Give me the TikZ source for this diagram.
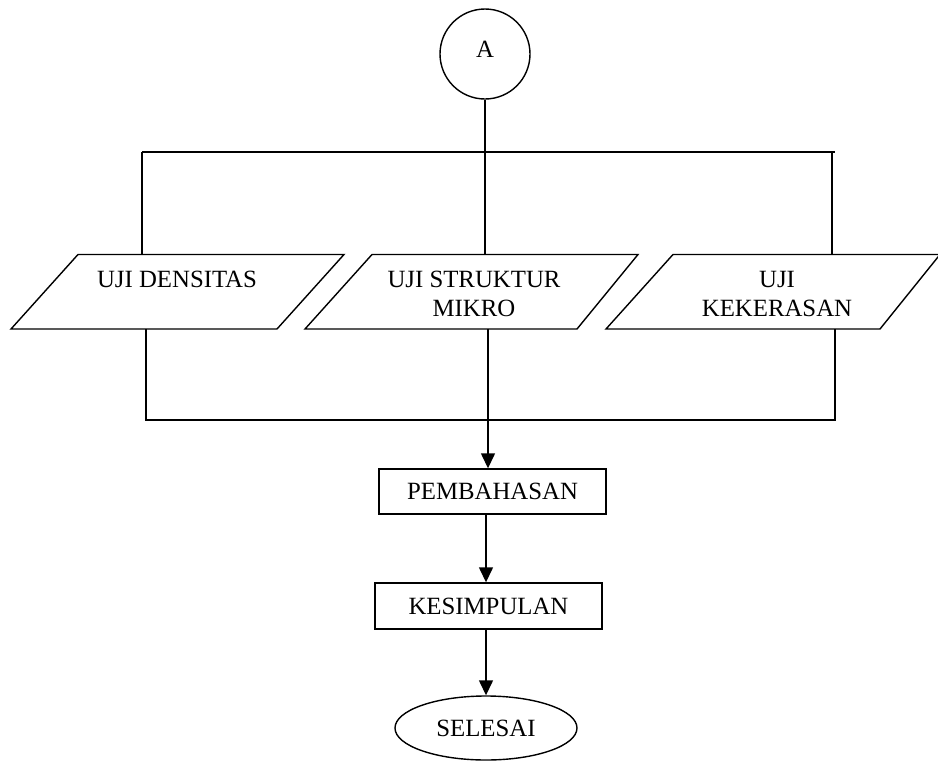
\documentclass[tikz,border=0pt]{standalone}
\usepackage{fontspec}
\setmainfont{Liberation Serif}
\usetikzlibrary{arrows.meta,shapes.geometric}
\begin{document}
\begin{tikzpicture}[x=1pt,y=-1pt, line width=1.4pt,
  font=\fontsize{24.8}{28.5}\selectfont,
  box/.style={draw, rectangle, inner sep=0pt},
  para/.style={draw, line join=miter},
  arr/.style={-{Triangle[length=15pt,width=14pt]}},
  lbl/.style={inner sep=0pt, anchor=north, align=center}]
\useasboundingbox (0,0) rectangle (938,761);

% start connector
\node[draw, circle, minimum size=90pt, inner sep=0pt,
      label={[yshift=5pt]center:A}] (A) at (485,54) {};

% parallelograms
\draw[para] (78,254.5) coordinate (p1tl) -- (344,254.5) -- (277,329) -- (11,329) -- cycle;
\draw[para] (372,254.5) coordinate (p2tl) -- (638,254.5) -- (577,329) -- (305,329) -- cycle;
\draw[para] (673,254.5) coordinate (p3tl) -- (940,254.5) -- (880,329) -- (606,329) -- cycle;

\node[lbl] (t1) at (177,270.8) {UJI DENSITAS};
\node[lbl] (t2) at (474,270.8) {UJI STRUKTUR\\MIKRO};
\node[lbl] (t3) at (777,270.8) {UJI\\KEKERASAN};

% process boxes and end
\node[box, minimum width=227pt, minimum height=45pt] (pem) at (492.5,491.5) {PEMBAHASAN};
\node[box, minimum width=227pt, minimum height=46pt] (kes) at (488.5,606) {KESIMPULAN};
\node[draw, ellipse, minimum width=182pt, minimum height=64pt, inner sep=0pt] (sel) at (486,728) {SELESAI};

% top bus
\coordinate (busTL) at (142,152);
\coordinate (busTR) at (835,152);
\coordinate (p1in) at (142,254.5);
\coordinate (p3in) at (832,254.5);
\coordinate (p3bus) at (832,152);
\draw (busTL) -- (busTR);
\draw (busTL) -- (p1in);
\draw (p3bus) -- (p3in);
\draw (A.south) -- (A.south |- p2tl);

% bottom bus
\coordinate (p1out) at (146,329);
\coordinate (p2out) at (488,329);
\coordinate (p3out) at (835,329);
\coordinate (busBL) at (146,420);
\coordinate (busBM) at (488,420);
\coordinate (busBR) at (835,420);
\draw (p1out) -- (busBL) -- (busBR) -- (p3out);
\draw (p2out) -- (busBM);
\draw[arr] (busBM) -- (busBM |- pem.north);
\draw[arr] (pem.south -| sel.north) -- (kes.north -| sel.north);
\draw[arr] (kes.south -| sel.north) -- (sel.north);
\end{tikzpicture}
\end{document}
